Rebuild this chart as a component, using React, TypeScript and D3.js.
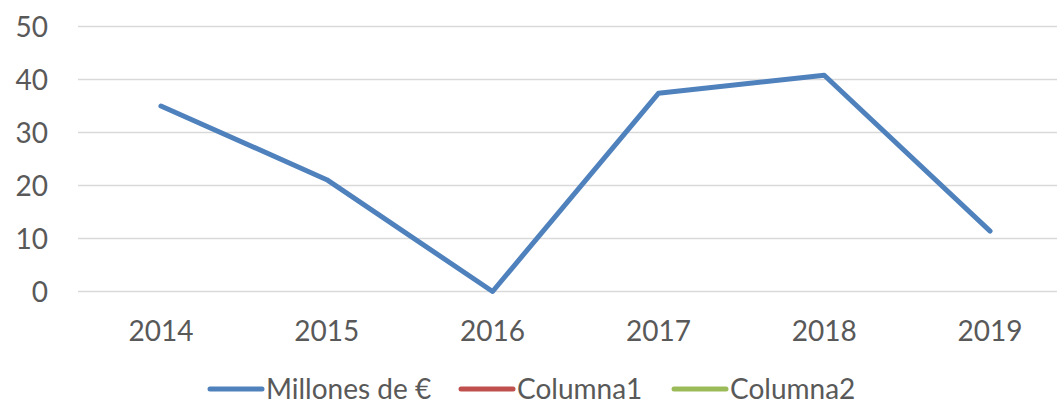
import React, { useEffect, useRef } from 'react';
import * as d3 from 'd3';

const years = ['2014', '2015', '2016', '2017', '2018', '2019'];
const millones = [35.0, 21.1, 0, 37.4, 40.8, 11.4];
const yTicks = [0, 10, 20, 30, 40, 50];
const legendItems = ['Millones de €', 'Columna1', 'Columna2'];
const legendColors = ['#4f81bd', '#c0504d', '#9bbb59'];

export default function App() {
  const ref = useRef<SVGSVGElement>(null);
  const width = 1057;
  const height = 406;
  const margin = { top: 26.5, left: 78, bottom: 114.5 };
  const plotRight = 1073;

  useEffect(() => {
    const svg = d3.select(ref.current);
    svg.selectAll('*').remove();

    const x = d3.scaleBand().domain(years).range([margin.left, plotRight]);
    const y = d3.scaleLinear().domain([0, 50]).range([height - margin.bottom, margin.top]);
    const font = 'Lato, "Open Sans", sans-serif';

    // gridlines
    svg.append('g')
      .selectAll('line')
      .data(yTicks)
      .join('line')
      .attr('x1', margin.left)
      .attr('x2', plotRight)
      .attr('y1', (d) => y(d))
      .attr('y2', (d) => y(d))
      .attr('stroke', '#d9d9d9')
      .attr('stroke-width', 1.5);

    // y labels
    svg.append('g')
      .selectAll('text')
      .data(yTicks)
      .join('text')
      .attr('x', 48)
      .attr('y', (d) => y(d))
      .attr('dy', '0.36em')
      .attr('text-anchor', 'end')
      .attr('font-family', font)
      .attr('font-size', 28)
      .attr('fill', '#595959')
      .text((d) => d);

    // x labels
    svg.append('g')
      .selectAll('text')
      .data(years)
      .join('text')
      .attr('x', (d) => x(d)! + x.bandwidth() / 2)
      .attr('y', 341)
      .attr('text-anchor', 'middle')
      .attr('font-family', font)
      .attr('font-size', 28)
      .attr('fill', '#595959')
      .text((d) => d);

    const line = d3.line<number>()
      .x((_, i) => x(years[i])! + x.bandwidth() / 2)
      .y((d) => y(d));

    svg.append('path')
      .datum(millones)
      .attr('d', line)
      .attr('fill', 'none')
      .attr('stroke', legendColors[0])
      .attr('stroke-width', 5)
      .attr('stroke-linejoin', 'round')
      .attr('stroke-linecap', 'round');

    // legend
    const legendX = [210, 461, 674];
    const lg = svg.append('g');
    legendItems.forEach((name, i) => {
      lg.append('line')
        .attr('x1', legendX[i])
        .attr('x2', legendX[i] + 52)
        .attr('y1', 389)
        .attr('y2', 389)
        .attr('stroke', legendColors[i])
        .attr('stroke-width', 5)
        .attr('stroke-linecap', 'round');
      lg.append('text')
        .attr('x', legendX[i] + 56)
        .attr('y', 399)
        .attr('font-family', font)
        .attr('font-size', 28)
        .attr('fill', '#595959')
        .text(name);
    });
  }, []);

  return (
    <svg
      ref={ref}
      width={width}
      height={height}
      style={{ position: 'absolute', left: 0, top: 0, background: '#fff' }}
    />
  );
}
